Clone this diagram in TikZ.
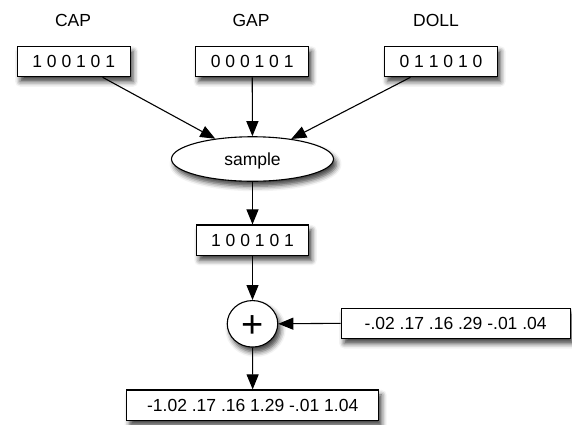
\documentclass[tikz,border=0pt]{standalone}
\usepackage{fontspec}
\setmainfont{Liberation Sans}
\usetikzlibrary{arrows.meta,shapes.geometric,shadows.blur}
\begin{document}
\begin{tikzpicture}[x=1pt,y=-1pt,
  every node/.style={font=\fontsize{17.5}{21}\selectfont, text height=12.5pt, text depth=0pt, inner sep=0pt},
  shad/.style={blur shadow={shadow xshift=3pt, shadow yshift=-5pt, shadow blur radius=5pt, shadow opacity=75}},
  bitbox/.style={draw, line width=1.1pt, fill=white, rectangle, minimum height=30.5pt, shad},
  ovalnode/.style={draw, line width=1.1pt, fill=white, ellipse, shad},
  arr/.style={line width=1.1pt, -{Triangle[length=15pt,width=12pt]}}
]
\useasboundingbox (0,0) rectangle (572,424);

\node (capl)  at (73,20.5)  {CAP};
\node (gapl)  at (251,20.5) {GAP};
\node (dolll) at (436,20.5) {DOLL};

\node[bitbox, minimum width=113pt] (cap)  at (73.7,61.5)  {1 0 0 1 0 1};
\node[bitbox, minimum width=113pt] (gap)  at (252.2,61.5) {0 0 0 1 0 1};
\node[bitbox, minimum width=113pt] (doll) at (441,61.5)   {0 1 1 0 1 0};

\node[ovalnode, minimum width=162pt, minimum height=44.5pt] (sample) at (252.5,159) {sample};

\node[bitbox, minimum width=112.5pt] (mid) at (252.5,240.2) {1 0 0 1 0 1};

\node[ovalnode, minimum width=50.5pt, minimum height=46.5pt, font=\fontsize{38}{40}\selectfont, text height=26.6pt] (plus) at (252.5,323.8) {+};

\node[bitbox, minimum width=229pt] (noise) at (455.7,323.3) {-.02 .17 .16 .29 -.01 .04};

\node[bitbox, minimum width=252pt] (res) at (252.7,405.2) {-1.02 .17 .16 1.29 -.01 1.04};

\draw[arr] (cap) -- (sample);
\draw[arr] (gap) -- (sample);
\draw[arr] (doll) -- (sample);
\draw[arr] (sample) -- (mid);
\draw[arr] (mid) -- (plus);
\draw[arr] (noise.west) -- (plus.east);
\draw[arr] (plus) -- (res);
\end{tikzpicture}
\end{document}
